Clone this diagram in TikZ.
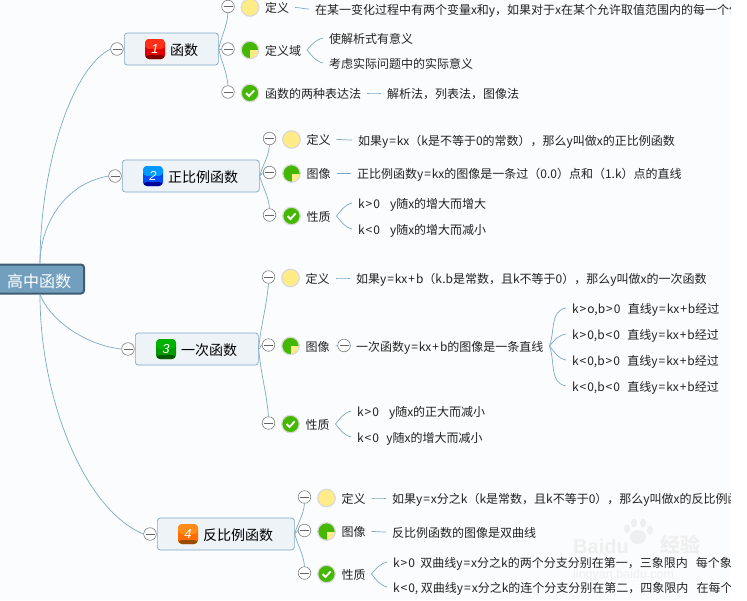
\documentclass[tikz,border=0pt]{standalone}
\usepackage{fontspec}
\setmainfont{Noto Sans CJK SC}
\newfontfamily\numfont{Liberation Sans}
\usetikzlibrary{positioning}
\usetikzlibrary{calc}

\definecolor{paper}{HTML}{FBFCFD}
\definecolor{linkblue}{HTML}{7FA8C9}
\definecolor{boxfill}{HTML}{EEF3F7}
\definecolor{rootfill}{HTML}{739FBF}
\definecolor{rootedge}{HTML}{3F5B72}
\definecolor{iconyellow}{HTML}{FFEC87}
\definecolor{icongreen}{HTML}{44B800}
\definecolor{inkdark}{HTML}{222222}
\definecolor{markgray}{HTML}{EFEFEF}

% the reference sets its signs a little wider
\newcommand{\Eq}{\kern1pt=\kern1pt}
\newcommand{\Pl}{\kern1pt+\kern1pt}
\newcommand{\Gt}{\kern1pt>\kern1pt}
\newcommand{\Lt}{\kern1pt<\kern1pt}

\tikzset{
	link/.style={draw=linkblue, line width=0.7pt},
	rootbox/.style={rectangle, rounded corners=3pt, fill=rootfill, draw=rootedge, line width=2pt, minimum width=88pt, minimum height=29pt, inner sep=0pt},
	mainbox/.style={rectangle, rounded corners=3pt, fill=boxfill, draw=linkblue, line width=0.7pt, minimum height=32pt, inner sep=0pt},
	fold/.style={circle, draw=black!50, fill=white, line width=0.6pt, minimum size=12.6pt, inner sep=0pt,
		path picture={\draw[black!60, line width=0.6pt] ([xshift=-4.5pt]path picture bounding box.center) -- ([xshift=4.5pt]path picture bounding box.center);}},
	iconbase/.style={circle, draw=black!15, line width=1.2pt, minimum size=17.5pt, inner sep=0pt},
	iconplain/.style={iconbase, fill=iconyellow},
	iconpie/.style={iconbase, fill=icongreen,
		path picture={\fill[iconyellow] (path picture bounding box.center) rectangle (path picture bounding box.south east);}},
	iconcheck/.style={iconbase, fill=icongreen,
		path picture={\draw[white, line width=1.8pt] ([shift={(-4pt,0pt)}]path picture bounding box.center) -- ([shift={(-1pt,-3pt)}]path picture bounding box.center) -- ([shift={(4.2pt,2.6pt)}]path picture bounding box.center);}},
	numicon/.style n args={3}{rectangle, rounded corners=4pt, minimum size=20pt, inner sep=0pt, text=white, font=\numfont\itshape\fontsize{13}{15}\selectfont, fill=#2,
		path picture={
			\fill[#1] (path picture bounding box.north west) rectangle (path picture bounding box.east);
			\fill[#3] ([yshift=4pt]path picture bounding box.south west) rectangle (path picture bounding box.south east);
		}},
	mainlab/.style={anchor=west, inner sep=0pt, text=black, font=\fontsize{14}{16}\selectfont, text height=13pt, text depth=1pt},
	sublab/.style={anchor=west, inner sep=1pt, outer sep=5pt, text=inkdark, font=\fontsize{12}{14}\selectfont, text height=12pt, text depth=2pt},
}

\begin{document}
\begin{tikzpicture}[x=1pt,y=-1pt]
	\useasboundingbox (0,0) rectangle (747,600);
	\fill[white] (0,0) rectangle (747,600);
	\fill[paper] (0,0) rectangle (730,600);

	% watermark
	\foreach \xx/\yy/\rx/\ry in {638/537/8/7, 627/529/3/4.5, 634/523/3/4.5, 643/523/3/4.5, 650/530/3/4.5}
		{\fill[markgray] (\xx,\yy) ellipse ({\rx pt} and {\ry pt});}
	\node[text=markgray, font=\numfont\bfseries\fontsize{20}{22}\selectfont, anchor=west, inner sep=0pt] (markA) at (573,546) {Baidu};
	\node[text=markgray, font=\bfseries\fontsize{20}{22}\selectfont, anchor=west, inner sep=0pt] (markB) at (660,545) {经验};
	\node[text=markgray, font=\numfont\fontsize{12.5}{14}\selectfont, anchor=west, inner sep=0pt] (markC) at (573,575) {jingyan.baidu.com};

	\begin{scope}
	\clip (0,0) rectangle (730,600);

	\node[rootbox] (root) at (40,279) {};
	\node[anchor=west, inner sep=0pt, text=white, font=\fontsize{16}{18}\selectfont] (rootlab) at (7,281) {高中函数};

	% the four main topics
	\foreach \nm/\xx/\bw/\yy/\ca/\cb/\cc/\num/\lab in {
		1/124/94/49/{red!80!orange!90}/{red!90!black}/{red!50!black}/1/函数,
		2/122/137/176/{blue!40!cyan}/{blue!70!cyan}/{blue!60!black}/2/正比例函数,
		3/135/123/349/{green!70!black}/{green!60!black}/{green!35!black}/3/一次函数,
		4/157/137/534/{orange!90}/{orange!85!red}/{orange!60!black}/4/反比例函数}
		{\node[mainbox, anchor=west, minimum width=\bw pt] (n\nm) at (\xx,\yy) {};
		 \node[fold] (f\nm) at (\xx-7,\yy) {};
		 \node[numicon={\ca}{\cb}{\cc}] (b\nm) at (\xx+31,\yy) {\num};
		 \node[mainlab] (m\nm) at (\xx+46,\yy) {\lab};}

	\draw[link] (root.north) .. controls (40,170) and (70,70) .. (f1.west);
	\draw[link] (root.north) .. controls (40,230) and (60,185) .. (f2.west);
	\draw[link] (root.south) .. controls (50,320) and (85,345) .. (f3.west);
	\draw[link] (root.south) .. controls (40,400) and (85,510) .. (f4.west);

	% second level
	\foreach \nm/\xx/\yy/\tp/\lab in {
		a1/228/6.5/iconplain/定义, a2/228/49/iconpie/定义域, a3/228/92/iconcheck/函数的两种表达法,
		c1/269.5/138.5/iconplain/定义, c2/269.5/172.5/iconpie/图像, c3/269.5/215/iconcheck/性质,
		d1/268.5/277/iconplain/定义, d2/268.5/345/iconpie/图像, d3/268.5/423/iconcheck/性质,
		e1/304.5/497/iconplain/定义, e2/304.5/530.5/iconpie/图像, e3/304.5/573/iconcheck/性质}
		{\node[fold] (f\nm) at (\xx,\yy) {};
		 \node[\tp] (i\nm) at (\xx+22,\yy+1) {};
		 \node[sublab] (l\nm) at (\xx+37-6,\yy+1) {\lab};}

	\foreach \pa/\ch/\ou/\inn/\an in {
		n1/a1/78/-95/south, n1/a2/0/180/west, n1/a3/-78/95/north,
		n2/c1/75/-95/south, n2/c2/0/180/west, n2/c3/-75/95/north,
		n3/d1/85/-95/south, n3/d2/0/180/west, n3/d3/-85/95/north,
		n4/e1/75/-95/south, n4/e2/0/180/west, n4/e3/-75/95/north}
		{\draw[link] (\pa.east) to[out=\ou, in=\inn] (f\ch.\an);}

	% the fold behind the straight line text
	\node[fold] (fg) at (344,345.5) {};
	\draw[link] (ld2.east) -- (fg.west);

	% leaf texts
	\foreach \nm/\pa/\xx/\yy/\ou/\inn/\tx in {
		p1/la1/315/9/0/180/在某一变化过程中有两个变量x和y，如果对于x在某个允许取值范围内的每一个值,
		p2/la2/329/38/50/195/使解析式有意义,
		p3/la2/329/63/-50/165/考虑实际问题中的实际意义,
		p4/la3/387/93/0/180/解析法，列表法，图像法,
		q1/lc1/358/140/0/180/如果y\Eq kx（k是不等于0的常数），那么y叫做x的正比例函数,
		q2/lc2/357/173.5/0/180/正比例函数y\Eq kx的图像是一条过（0.0）点和（1.k）点的直线,
		q3/lc3/358/203/50/195/k\Gt0\ \ \ \,y随x的增大而增大,
		q4/lc3/358/229/-50/165/k\Lt0\ \ \ \,y随x的增大而减小,
		r1/ld1/356/278/0/180/如果y\Eq kx\Pl b（k.b是常数，且k不等于0），那么y叫做x的一次函数,
		r2/fg/356/346/0/180/一次函数y\Eq kx\Pl b的图像是一条直线,
		r3/ld3/357/411/50/195/k\Gt0\ \ \ \,y随x的正大而减小,
		r4/ld3/357/437/-50/165/k\Lt0\ \ \,y随x的增大而减小,
		s1/le1/392/498/0/180/如果y\Eq x分之k（k是常数，且k不等于0），那么y叫做x的反比例函数,
		s2/le2/392/532/0/180/反比例函数的图像是双曲线,
		s3/le3/393/562/50/195/k\Gt0\ \ 双曲线y\Eq x分之k的两个分支分别在第一，三象限内\ \ \ 每个象限,
		s4/le3/393/587/-50/165/{k\Lt0, 双曲线y\Eq x分之k的连个分支分别在第二，四象限内\ \ \ 在每个象限}}
		{\node[sublab] (\nm) at (\xx-6,\yy) {\tx};
		 \draw[link] (\pa.east) to[out=\ou, in=\inn] (\nm.west);}

	\foreach \nm/\yy/\ou/\inn/\tx in {
		g1/308/70/190/{k\Gt o,b\Gt0\ \ \,直线y\Eq kx\Pl b经过},
		g2/334/50/190/{k\Gt0,b\Lt0\ \ \,直线y\Eq kx\Pl b经过},
		g3/360/-50/170/{k\Lt0,b\Gt0\ \ \,直线y\Eq kx\Pl b经过},
		g4/386/-70/170/{k\Lt0,b\Lt0\ \ \,直线y\Eq kx\Pl b经过}}
		{\node[sublab] (\nm) at (572-6,\yy) {\tx};
		 \draw[link] (r2.east) to[out=\ou, in=\inn] (\nm.west);}
	\end{scope}
\end{tikzpicture}
\end{document}
